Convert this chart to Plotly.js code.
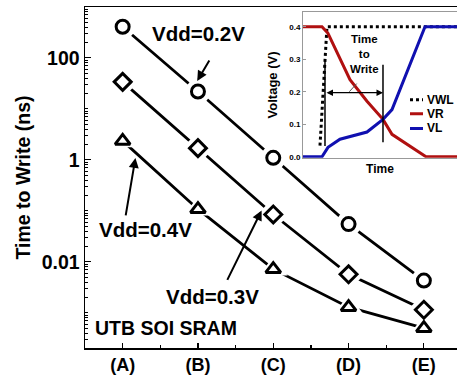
<!DOCTYPE html>
<html><head><meta charset="utf-8">
<script src="https://cdn.plot.ly/plotly-3.0.1.min.js"></script>
<style>html,body{margin:0;padding:0;background:#fff}#c{width:457px;height:375px}</style>
</head><body><div id="c"></div>
<script>
// ---- main chart data ----
const categories = ['(A)', '(B)', '(C)', '(D)', '(E)'];
const catIndex = [0, 1, 2, 3, 4];
const vdd02 = [410, 22, 1.1, 0.055, 0.0043];
const vdd03 = [34, 1.7, 0.085, 0.0057, 0.00115];
const vdd04 = [2.36, 0.108, 0.0072, 0.00129, 0.0005];
const yTickVals = [0.01, 1, 100];
const yTickText = ['0.01', '1', '100'];

// ---- inset data (arbitrary time units) ----
const timeVWL = [17, 24, 154];
const valVWL = [0.034, 0.4, 0.4];
const timeVR = [0, 19, 25, 47, 64, 80, 89, 123, 154];
const valVR = [0.4, 0.4, 0.38, 0.237, 0.171, 0.115, 0.069, 0.0, 0.0];
const timeVL = [0, 19, 25, 37, 64, 80, 89, 122, 154];
const valVL = [0, 0, 0.029, 0.054, 0.076, 0.115, 0.145, 0.4, 0.4];
const insetTicks = [0.0, 0.1, 0.2, 0.3, 0.4];
const insetTickText = ['0.0', '0.1', '0.2', '0.3', '0.4'];
const legendNames = ['VWL', 'VR', 'VL'];
const legendColors = ['#000000', '#b01010', '#1010b0'];

const F = 'Arial, "Liberation Sans", sans-serif';
const series = [vdd02, vdd03, vdd04];
const symbols = ['circle', 'diamond', 'triangle-up'];
const traces = [];
series.forEach(s => traces.push({x: catIndex, y: s, type: 'scatter', mode: 'lines',
  line: {color: '#000', width: 2.8}, showlegend: false, hoverinfo: 'skip'}));
series.forEach((s, i) => traces.push({x: catIndex, y: s, type: 'scatter', mode: 'markers',
  marker: {symbol: symbols[i], size: 25, color: '#fff', line: {width: 0}}, showlegend: false, hoverinfo: 'skip'}));
series.forEach((s, i) => traces.push({x: catIndex, y: s, type: 'scatter', mode: 'markers',
  marker: {symbol: symbols[i], size: 13, color: '#fff', line: {color: '#000', width: 3}}, showlegend: false}));

traces.push({x: timeVWL, y: valVWL, xaxis: 'x2', yaxis: 'y2', type: 'scatter', mode: 'lines',
  line: {color: legendColors[0], width: 3, dash: 'dot'}, name: legendNames[0], showlegend: false});
traces.push({x: timeVR, y: valVR, xaxis: 'x2', yaxis: 'y2', type: 'scatter', mode: 'lines',
  line: {color: legendColors[1], width: 3}, name: legendNames[1], showlegend: false});
traces.push({x: timeVL, y: valVL, xaxis: 'x2', yaxis: 'y2', type: 'scatter', mode: 'lines',
  line: {color: legendColors[2], width: 3}, name: legendNames[2], showlegend: false});

const big = {family: F, size: 20.5, color: '#000', weight: 'bold'};
const shapes = [
  {type: 'line', xref: 'x2', yref: 'y2', x0: 22, x1: 22, y0: 0.033, y1: 0.3, line: {color: '#000', width: 1.5}},
  {type: 'line', xref: 'x2', yref: 'y2', x0: 80, x1: 80, y0: 0.045, y1: 0.283, line: {color: '#000', width: 1.5}},
  {type: 'line', xref: 'x2', yref: 'y2', x0: 53.7, x1: 46.3, y0: 0.225, y1: 0.2, line: {color: '#555', width: 1}}
];
const annotations = [
  {x: 1.01, y: 2.49, text: 'Vdd=0.2V', showarrow: false, font: big},
  {x: 0.99, y: 1.55, ax: 13, ay: -22, text: '', showarrow: true, arrowhead: 2, arrowsize: 1, arrowwidth: 2, arrowcolor: '#000'},
  {x: 0.305, y: -1.373, text: 'Vdd=0.4V', showarrow: false, font: big},
  {x: 0.17, y: 0.04, ax: -10, ay: 59, text: '', showarrow: true, arrowhead: 2, arrowsize: 1, arrowwidth: 2, arrowcolor: '#000'},
  {x: 1.195, y: -2.68, text: 'Vdd=0.3V', showarrow: false, font: big},
  {x: 1.845, y: -0.99, ax: -35, ay: 71, text: '', showarrow: true, arrowhead: 2, arrowsize: 1, arrowwidth: 2, arrowcolor: '#000'},
  {x: -0.4, y: -3.29, xanchor: 'left', text: 'UTB SOI SRAM', showarrow: false, font: {family: F, size: 19.5, color: '#000', weight: 'bold'}},
  {xref: 'x2', yref: 'y2', x: 62, y: 0.315, text: 'Time<br>to<br>Write', showarrow: false,
    font: {family: F, size: 11.5, color: '#000', weight: 'bold'}},
  {xref: 'x2', yref: 'y2', axref: 'x2', ayref: 'y2', x: 80, y: 0.197, ax: 22, ay: 0.197, text: '', showarrow: true,
    arrowhead: 2, startarrowhead: 2, arrowside: 'end+start', arrowsize: 1, startarrowsize: 1, arrowwidth: 1.3, arrowcolor: '#000'}
];
// manual inset legend
const legY = [0.175, 0.132, 0.087];
legendNames.forEach((n, i) => {
  shapes.push({type: 'line', xref: 'x2', yref: 'y2', x0: 107, x1: 120, y0: legY[i], y1: legY[i],
    line: {color: legendColors[i], width: 3, dash: i === 0 ? 'dot' : 'solid'}});
  annotations.push({xref: 'x2', yref: 'y2', x: 122, y: legY[i], xanchor: 'left', text: n, showarrow: false,
    font: {family: F, size: 12, color: '#000', weight: 'bold'}});
});

const layout = {
  width: 457, height: 375,
  margin: {l: 85, r: 0, t: 7, b: 27},
  paper_bgcolor: '#fff', plot_bgcolor: '#fff',
  showlegend: false,
  xaxis: {range: [-0.5, 4.44], tickvals: catIndex, ticktext: categories, ticks: 'inside', ticklen: 5, tickwidth: 1.2,
    tickcolor: '#000', showline: true, linecolor: '#000', linewidth: 1.5, mirror: true, showgrid: false, zeroline: false,
    tickfont: {family: F, size: 18, color: '#000', weight: 'bold'},
    minor: {tickvals: [0.5, 1.5, 2.5, 3.5], ticks: 'inside', ticklen: 3, tickcolor: '#000'}},
  yaxis: {type: 'log', range: [-3.69, 3.0], autorange: false, tickvals: yTickVals, ticktext: yTickText,
    ticks: 'inside', ticklen: 6, tickcolor: '#000', showline: true, linecolor: '#000', linewidth: 1.5, mirror: true,
    showgrid: false, zeroline: false, tickfont: {family: F, size: 19.5, color: '#000', weight: 'bold'},
    minor: {dtick: 'D1', ticks: 'inside', ticklen: 3, tickcolor: '#000'},
    title: {text: 'Time to Write (ns)', font: {family: F, size: 19.5, color: '#000', weight: 'bold'}, standoff: 6}},
  xaxis2: {domain: [0.586, 1], anchor: 'y2', range: [0, 154], showticklabels: false, ticks: '', showgrid: false,
    zeroline: false, showline: true, mirror: true, linecolor: '#999', linewidth: 1,
    title: {text: 'Time', font: {family: F, size: 12, color: '#000', weight: 'bold'}, standoff: 6}},
  yaxis2: {domain: [0.558, 0.985], anchor: 'x2', range: [-0.003, 0.445], tickvals: insetTicks, ticktext: insetTickText,
    ticks: 'inside', ticklen: 3, tickcolor: '#999', showgrid: false, zeroline: false, showline: true, mirror: true,
    linecolor: '#999', linewidth: 1, tickfont: {family: F, size: 8, color: '#000', weight: 'bold'},
    title: {text: 'Voltage (V)', font: {family: F, size: 13, color: '#000', weight: 'bold'}, standoff: 8}},
  shapes: shapes,
  annotations: annotations
};
// white background for inset
layout.shapes.unshift({type: 'rect', xref: 'x2 domain', yref: 'y2 domain', x0: 0, x1: 1, y0: 0, y1: 1,
  fillcolor: '#fff', line: {width: 0}, layer: 'below'});
Plotly.newPlot('c', traces, layout, {staticPlot: true});
</script></body></html>
